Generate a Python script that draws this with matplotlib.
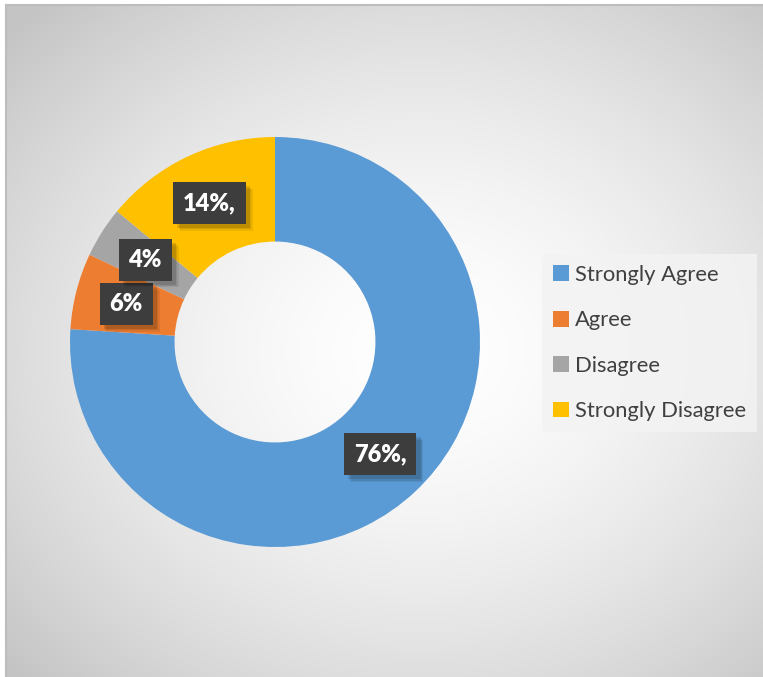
import numpy as np
import matplotlib
matplotlib.use("Agg")
import matplotlib.pyplot as plt
from matplotlib.patches import Patch
import matplotlib.patheffects as pe

# Survey responses
categories = ["Strongly Agree", "Agree", "Disagree", "Strongly Disagree"]
shares = [76, 6, 4, 14]
value_labels = ["76%,", "6%", "4%", "14%,"]
colors = ["#5B9BD5", "#ED7D31", "#A5A5A5", "#FFC000"]

W, H, DPI = 763, 677, 100
fig = plt.figure(figsize=(W / DPI, H / DPI), dpi=DPI)
fig.patch.set_facecolor("white")

# Radial grey-to-white backdrop inside the chart frame
bg = fig.add_axes([0, 0, 1, 1])
bg.set_xlim(0, W)
bg.set_ylim(H, 0)
bg.axis("off")
x0, y0 = 6, 5
xx, yy = np.meshgrid(np.arange(x0, W), np.arange(y0, H))
cx, cy = 420, 350
r = np.sqrt(((xx - cx) / 560.0) ** 2 + ((yy - cy) / 470.0) ** 2)
r = np.clip(r, 0, 1)
lev = 1.0 - (1.0 - 0.77) * r ** 1.6
img = np.dstack([lev, lev, lev])
bg.imshow(img, extent=(x0, W, H, y0), interpolation="bilinear", aspect="auto")
bg.plot([x0, W], [y0, y0], color="#bdbdbd", lw=1.5)
bg.plot([x0, x0], [y0, H], color="#bdbdbd", lw=1.5)

# Doughnut
pcx, pcy, R = 275, 342, 205
ax = fig.add_axes([(pcx - R) / W, 1 - (pcy + R) / H, 2 * R / W, 2 * R / H])
wedges, _ = ax.pie(shares, colors=colors, startangle=90, counterclock=False,
                   radius=1.0, wedgeprops=dict(width=0.51, linewidth=0))
ax.set_xlim(-1, 1)
ax.set_ylim(-1, 1)
ax.set_aspect("auto")
ax.axis("off")

# Value labels on dark boxes at mid-angle of each slice, with a soft shadow
soft_shadow = [pe.SimplePatchShadow(offset=(d, -d), shadow_rgbFace="#000000",
                                    alpha=a) for d, a in ((5, 0.07), (4, 0.09), (3, 0.12))]
total = sum(shares)
cum = 0
for val, lab in zip(shares, value_labels):
    mid = (cum + val / 2) / total
    cum += val
    ang = np.deg2rad(90 - 360 * mid)
    t = ax.text(0.75 * np.cos(ang), 0.75 * np.sin(ang), lab,
                ha="center", va="center", color="white", fontsize=17,
                fontweight="heavy", family="Lato",
                bbox=dict(boxstyle="square,pad=0.42", facecolor="#3d3d3d",
                          edgecolor="none", linewidth=0))
    t.get_bbox_patch().set_path_effects(soft_shadow + [pe.Normal()])

# Legend
handles = [Patch(facecolor=c, edgecolor="none") for c in colors]
leg = fig.legend(handles, categories, loc="upper left",
                 bbox_to_anchor=(542 / W, 1 - 254 / H),
                 frameon=True, fancybox=False, facecolor="#f3f3f3",
                 edgecolor="none", framealpha=0.85,
                 prop=dict(family="Lato", size=15.8),
                 handlelength=0.72, handleheight=0.72, handletextpad=0.3,
                 labelspacing=1.16, borderpad=0.5, borderaxespad=0)
for txt in leg.get_texts():
    txt.set_color("#404040")

fig.savefig("out.png", dpi=DPI)
